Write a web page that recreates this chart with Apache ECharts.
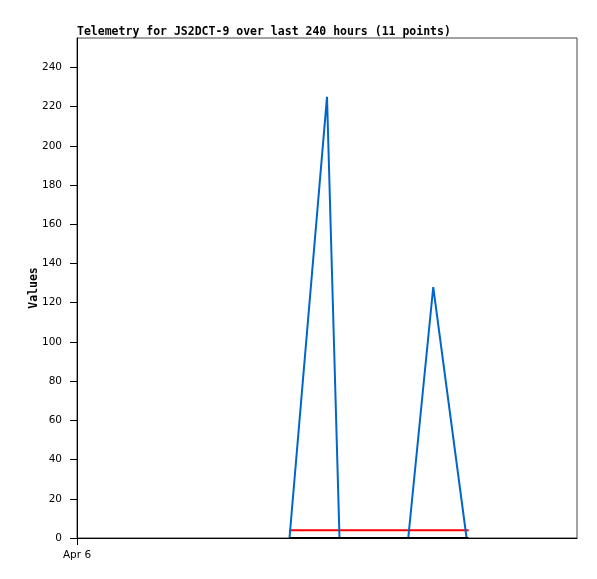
<!DOCTYPE html>
<html><head><meta charset="utf-8">
<script src="https://cdn.jsdelivr.net/npm/echarts@6/dist/echarts.min.js"></script>
<style>html,body{margin:0;padding:0;background:#fff}#c{width:597px;height:579px}</style>
</head><body><div id="c"></div>
<script>
// hours since start of window (Apr 6)
const blueHours = [102, 120, 126, 159, 171, 187];
const blueValues = [0, 225, 0, 0, 128, 0];
const redHours = [102, 188];
const redValues = [4, 4];
const blackHours = [102, 188];
const blackValues = [0, 0];
const yTicks = [0, 20, 40, 60, 80, 100, 120, 140, 160, 180, 200, 220, 240];
const xTickHours = [0];
const xTickLabels = ['Apr 6'];

const pair = (xs, ys) => xs.map((x, i) => [x, ys[i]]);
const chart = echarts.init(document.getElementById('c'), null, {renderer: 'canvas'});
chart.setOption({
  animation: false,
  backgroundColor: '#fff',
  title: {
    text: 'Telemetry for JS2DCT-9 over last 240 hours (11 points)',
    left: 77, top: 26, padding: 0,
    textStyle: {fontFamily: 'DejaVu Sans Mono', fontWeight: 'bold', fontSize: 11.5, color: '#000'}
  },
  grid: {left: 77, top: 38, right: 20, bottom: 41, show: true, borderColor: '#444', borderWidth: 1},
  xAxis: {
    type: 'value', min: 0, max: 240,
    axisLine: {show: true, lineStyle: {color: '#000', width: 1}},
    axisTick: {show: true, customValues: xTickHours, length: 7, lineStyle: {color: '#000'}},
    axisLabel: {customValues: xTickHours, formatter: v => xTickLabels[xTickHours.indexOf(v)] || '',
      fontFamily: 'DejaVu Sans', fontSize: 10.5, color: '#000', margin: 12},
    splitLine: {show: false}
  },
  yAxis: {
    type: 'value', min: 0, max: 255,
    name: 'Values', nameLocation: 'middle', nameGap: 37, nameMoveOverlap: false,
    nameTextStyle: {fontFamily: 'DejaVu Sans Mono', fontWeight: 'bold', fontSize: 11.5, color: '#000'},
    axisLine: {show: true, lineStyle: {color: '#000', width: 1}},
    axisTick: {show: true, customValues: yTicks, length: 7, lineStyle: {color: '#000'}},
    axisLabel: {customValues: yTicks, fontFamily: 'DejaVu Sans', fontSize: 10.5, color: '#000', margin: 15},
    splitLine: {show: false}
  },
  series: [
    {type: 'line', data: pair(redHours, redValues), symbol: 'none', lineStyle: {color: '#ff0000', width: 2}},
    {type: 'line', data: pair(blueHours, blueValues), symbol: 'none', lineStyle: {color: '#0066cc', width: 2}},
    {type: 'line', data: pair(blackHours, blackValues), symbol: 'none', lineStyle: {color: '#000', width: 2}}
  ]
});
</script></body></html>
